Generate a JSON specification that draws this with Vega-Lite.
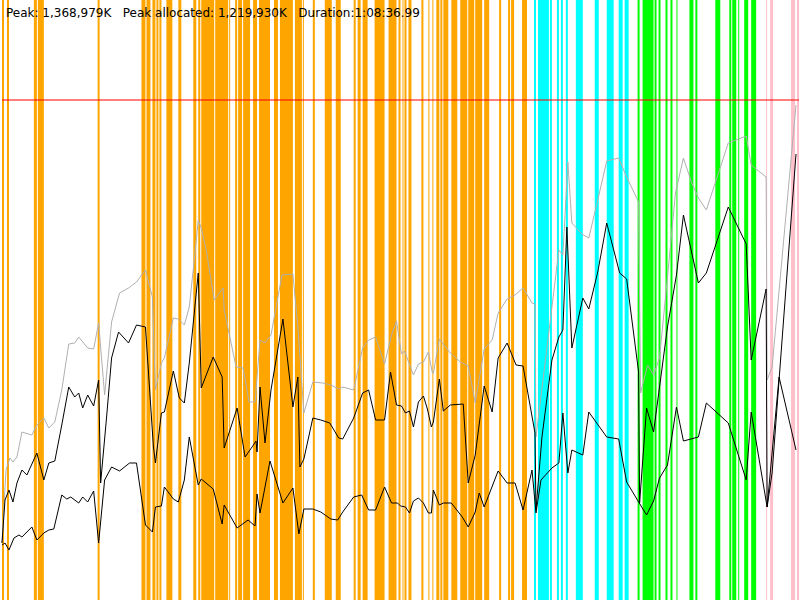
{
  "$schema": "https://vega.github.io/schema/vega-lite/v6.json",
  "width": 800,
  "height": 600,
  "padding": 0,
  "autosize": {"type": "fit", "contains": "padding"},
  "title": {
    "text": "Peak: 1,368,979K\u00a0\u00a0\u00a0Peak allocated: 1,219,930K\u00a0\u00a0\u00a0Duration:1:08:36.99",
    "anchor": "start",
    "frame": "group",
    "orient": "top",
    "offset": -20,
    "dx": 4,
    "font": "DejaVu Sans",
    "fontSize": 12,
    "fontWeight": "normal",
    "color": "#000000"
  },
  "datasets": {
    "bands": [
      {"a": 0, "b": 2, "k": "phase1"}, {"a": 5, "b": 7, "k": "phase1"}, {"a": 32, "b": 35, "k": "phase1"}, {"a": 36, "b": 42, "k": "phase1"},
      {"a": 96, "b": 98, "k": "phase1"}, {"a": 140, "b": 144, "k": "phase1"}, {"a": 145, "b": 149, "k": "phase1"}, {"a": 151, "b": 154, "k": "phase1"},
      {"a": 155, "b": 157, "k": "phase1"}, {"a": 158, "b": 160, "k": "phase1"}, {"a": 165, "b": 171, "k": "phase1"}, {"a": 177, "b": 180, "k": "phase1"},
      {"a": 192, "b": 195, "k": "phase1"}, {"a": 197, "b": 199, "k": "phase1"}, {"a": 200, "b": 213, "k": "phase1"}, {"a": 214, "b": 227, "k": "phase1"},
      {"a": 228, "b": 229, "k": "phase1"}, {"a": 234, "b": 236, "k": "phase1"}, {"a": 237, "b": 241, "k": "phase1"}, {"a": 242, "b": 249, "k": "phase1"},
      {"a": 252, "b": 256, "k": "phase1"}, {"a": 258, "b": 269, "k": "phase1"}, {"a": 273, "b": 277, "k": "phase1"}, {"a": 279, "b": 292, "k": "phase1"},
      {"a": 294, "b": 301, "k": "phase1"}, {"a": 302, "b": 303, "k": "phase1"}, {"a": 312, "b": 314, "k": "phase1"}, {"a": 324, "b": 331, "k": "phase1"},
      {"a": 335, "b": 340, "k": "phase1"}, {"a": 353, "b": 355, "k": "phase1"}, {"a": 357, "b": 360, "k": "phase1"}, {"a": 362, "b": 367, "k": "phase1"},
      {"a": 374, "b": 384, "k": "phase1"}, {"a": 388, "b": 396, "k": "phase1"}, {"a": 398, "b": 400, "k": "phase1"}, {"a": 402, "b": 403, "k": "phase1"},
      {"a": 404, "b": 406, "k": "phase1"}, {"a": 408, "b": 411, "k": "phase1"}, {"a": 421, "b": 423, "k": "phase1"}, {"a": 428, "b": 429, "k": "phase1"},
      {"a": 432, "b": 433, "k": "phase1"}, {"a": 436, "b": 439, "k": "phase1"}, {"a": 440, "b": 442, "k": "phase1"}, {"a": 443, "b": 448, "k": "phase1"},
      {"a": 451, "b": 457, "k": "phase1"}, {"a": 460, "b": 467, "k": "phase1"}, {"a": 468, "b": 474, "k": "phase1"}, {"a": 475, "b": 482, "k": "phase1"},
      {"a": 484, "b": 489, "k": "phase1"}, {"a": 499, "b": 501, "k": "phase1"}, {"a": 508, "b": 510, "k": "phase1"}, {"a": 511, "b": 514, "k": "phase1"},
      {"a": 522, "b": 527, "k": "phase1"},
      {"a": 534, "b": 536, "k": "phase2"}, {"a": 538, "b": 549, "k": "phase2"}, {"a": 550, "b": 552, "k": "phase2"}, {"a": 557, "b": 559, "k": "phase2"},
      {"a": 561, "b": 563, "k": "phase2"}, {"a": 566, "b": 568, "k": "phase2"}, {"a": 576, "b": 583, "k": "phase2"}, {"a": 595, "b": 599, "k": "phase2"},
      {"a": 607, "b": 614, "k": "phase2"}, {"a": 619, "b": 623, "k": "phase2"}, {"a": 625, "b": 629, "k": "phase2"},
      {"a": 638, "b": 640, "k": "phase3"}, {"a": 643, "b": 654, "k": "phase3"}, {"a": 655, "b": 657, "k": "phase3"}, {"a": 659, "b": 661, "k": "phase3"},
      {"a": 666, "b": 668, "k": "phase3"}, {"a": 671, "b": 673, "k": "phase3"}, {"a": 677, "b": 678, "k": "phase3"}, {"a": 690, "b": 694, "k": "phase3"},
      {"a": 696, "b": 698, "k": "phase3"}, {"a": 716, "b": 721, "k": "phase3"}, {"a": 730, "b": 732, "k": "phase3"}, {"a": 733, "b": 737, "k": "phase3"},
      {"a": 739, "b": 740, "k": "phase3"}, {"a": 745, "b": 749, "k": "phase3"}, {"a": 752, "b": 757, "k": "phase3"},
      {"a": 767, "b": 768, "k": "phase4"}, {"a": 771, "b": 774, "k": "phase4"}, {"a": 792, "b": 796, "k": "phase4"}, {"a": 798, "b": 800, "k": "phase4"}
    ],
    "mem": [
      {"s": "peak", "t": 0, "v": 57}, {"s": "peak", "t": 4, "v": 130}, {"s": "peak", "t": 8, "v": 142}, {"s": "peak", "t": 11, "v": 138},
      {"s": "peak", "t": 15, "v": 143}, {"s": "peak", "t": 20, "v": 168}, {"s": "peak", "t": 30, "v": 165}, {"s": "peak", "t": 35, "v": 175},
      {"s": "peak", "t": 42, "v": 182}, {"s": "peak", "t": 47, "v": 172}, {"s": "peak", "t": 53, "v": 178}, {"s": "peak", "t": 60, "v": 210},
      {"s": "peak", "t": 67, "v": 256}, {"s": "peak", "t": 73, "v": 257}, {"s": "peak", "t": 77, "v": 263}, {"s": "peak", "t": 86, "v": 252},
      {"s": "peak", "t": 92, "v": 251}, {"s": "peak", "t": 97, "v": 277}, {"s": "peak", "t": 103, "v": 205}, {"s": "peak", "t": 110, "v": 278},
      {"s": "peak", "t": 118, "v": 307}, {"s": "peak", "t": 127, "v": 312}, {"s": "peak", "t": 135, "v": 318}, {"s": "peak", "t": 144, "v": 330},
      {"s": "peak", "t": 151, "v": 303}, {"s": "peak", "t": 154, "v": 210}, {"s": "peak", "t": 160, "v": 237}, {"s": "peak", "t": 163, "v": 242},
      {"s": "peak", "t": 172, "v": 282}, {"s": "peak", "t": 177, "v": 281}, {"s": "peak", "t": 183, "v": 275}, {"s": "peak", "t": 188, "v": 293},
      {"s": "peak", "t": 193, "v": 340}, {"s": "peak", "t": 197, "v": 380}, {"s": "peak", "t": 200, "v": 372}, {"s": "peak", "t": 205, "v": 350},
      {"s": "peak", "t": 213, "v": 300}, {"s": "peak", "t": 222, "v": 312}, {"s": "peak", "t": 223, "v": 290}, {"s": "peak", "t": 235, "v": 233},
      {"s": "peak", "t": 242, "v": 232}, {"s": "peak", "t": 248, "v": 198}, {"s": "peak", "t": 254, "v": 198}, {"s": "peak", "t": 259, "v": 260},
      {"s": "peak", "t": 264, "v": 257}, {"s": "peak", "t": 270, "v": 265}, {"s": "peak", "t": 281, "v": 325}, {"s": "peak", "t": 292, "v": 326},
      {"s": "peak", "t": 297, "v": 273}, {"s": "peak", "t": 303, "v": 187}, {"s": "peak", "t": 312, "v": 218}, {"s": "peak", "t": 322, "v": 217},
      {"s": "peak", "t": 330, "v": 215}, {"s": "peak", "t": 338, "v": 211}, {"s": "peak", "t": 342, "v": 213}, {"s": "peak", "t": 353, "v": 210},
      {"s": "peak", "t": 362, "v": 252}, {"s": "peak", "t": 368, "v": 260}, {"s": "peak", "t": 375, "v": 263}, {"s": "peak", "t": 384, "v": 236},
      {"s": "peak", "t": 391, "v": 265}, {"s": "peak", "t": 396, "v": 279}, {"s": "peak", "t": 401, "v": 246}, {"s": "peak", "t": 404, "v": 249},
      {"s": "peak", "t": 413, "v": 225}, {"s": "peak", "t": 418, "v": 236}, {"s": "peak", "t": 423, "v": 238}, {"s": "peak", "t": 428, "v": 248},
      {"s": "peak", "t": 432, "v": 227}, {"s": "peak", "t": 433, "v": 227}, {"s": "peak", "t": 439, "v": 261}, {"s": "peak", "t": 450, "v": 247},
      {"s": "peak", "t": 460, "v": 238}, {"s": "peak", "t": 468, "v": 234}, {"s": "peak", "t": 475, "v": 197}, {"s": "peak", "t": 484, "v": 251},
      {"s": "peak", "t": 492, "v": 260}, {"s": "peak", "t": 498, "v": 287}, {"s": "peak", "t": 507, "v": 301}, {"s": "peak", "t": 515, "v": 305},
      {"s": "peak", "t": 523, "v": 312}, {"s": "peak", "t": 532, "v": 297}, {"s": "peak", "t": 535, "v": 296}, {"s": "peak", "t": 536, "v": 163},
      {"s": "peak", "t": 559, "v": 350}, {"s": "peak", "t": 563, "v": 345}, {"s": "peak", "t": 568, "v": 438}, {"s": "peak", "t": 572, "v": 377},
      {"s": "peak", "t": 582, "v": 366}, {"s": "peak", "t": 589, "v": 362}, {"s": "peak", "t": 598, "v": 400}, {"s": "peak", "t": 607, "v": 439},
      {"s": "peak", "t": 619, "v": 442}, {"s": "peak", "t": 627, "v": 423}, {"s": "peak", "t": 639, "v": 398}, {"s": "peak", "t": 641, "v": 207},
      {"s": "peak", "t": 648, "v": 235}, {"s": "peak", "t": 654, "v": 225}, {"s": "peak", "t": 660, "v": 242}, {"s": "peak", "t": 668, "v": 323},
      {"s": "peak", "t": 676, "v": 407}, {"s": "peak", "t": 684, "v": 442}, {"s": "peak", "t": 692, "v": 418}, {"s": "peak", "t": 699, "v": 402},
      {"s": "peak", "t": 707, "v": 390}, {"s": "peak", "t": 729, "v": 457}, {"s": "peak", "t": 747, "v": 464}, {"s": "peak", "t": 752, "v": 435},
      {"s": "peak", "t": 767, "v": 423}, {"s": "peak", "t": 768, "v": 220}, {"s": "peak", "t": 773, "v": 233}, {"s": "peak", "t": 797, "v": 495},

      {"s": "allocated", "t": 0, "v": 57}, {"s": "allocated", "t": 3, "v": 100}, {"s": "allocated", "t": 7, "v": 110}, {"s": "allocated", "t": 11, "v": 98},
      {"s": "allocated", "t": 15, "v": 117}, {"s": "allocated", "t": 20, "v": 130}, {"s": "allocated", "t": 25, "v": 125}, {"s": "allocated", "t": 35, "v": 147},
      {"s": "allocated", "t": 42, "v": 120}, {"s": "allocated", "t": 47, "v": 137}, {"s": "allocated", "t": 53, "v": 139}, {"s": "allocated", "t": 60, "v": 175},
      {"s": "allocated", "t": 67, "v": 213}, {"s": "allocated", "t": 73, "v": 203}, {"s": "allocated", "t": 77, "v": 207}, {"s": "allocated", "t": 81, "v": 192},
      {"s": "allocated", "t": 86, "v": 205}, {"s": "allocated", "t": 92, "v": 194}, {"s": "allocated", "t": 97, "v": 220}, {"s": "allocated", "t": 99, "v": 117},
      {"s": "allocated", "t": 105, "v": 183}, {"s": "allocated", "t": 110, "v": 242}, {"s": "allocated", "t": 117, "v": 268}, {"s": "allocated", "t": 127, "v": 257},
      {"s": "allocated", "t": 135, "v": 275}, {"s": "allocated", "t": 144, "v": 273}, {"s": "allocated", "t": 152, "v": 153}, {"s": "allocated", "t": 154, "v": 137},
      {"s": "allocated", "t": 160, "v": 187}, {"s": "allocated", "t": 163, "v": 188}, {"s": "allocated", "t": 172, "v": 229}, {"s": "allocated", "t": 178, "v": 202},
      {"s": "allocated", "t": 183, "v": 197}, {"s": "allocated", "t": 188, "v": 237}, {"s": "allocated", "t": 197, "v": 327}, {"s": "allocated", "t": 200, "v": 212},
      {"s": "allocated", "t": 212, "v": 243}, {"s": "allocated", "t": 221, "v": 223}, {"s": "allocated", "t": 223, "v": 152}, {"s": "allocated", "t": 236, "v": 192},
      {"s": "allocated", "t": 244, "v": 143}, {"s": "allocated", "t": 251, "v": 153}, {"s": "allocated", "t": 255, "v": 159}, {"s": "allocated", "t": 256, "v": 148},
      {"s": "allocated", "t": 259, "v": 213}, {"s": "allocated", "t": 264, "v": 157}, {"s": "allocated", "t": 270, "v": 210}, {"s": "allocated", "t": 282, "v": 281},
      {"s": "allocated", "t": 292, "v": 193}, {"s": "allocated", "t": 297, "v": 223}, {"s": "allocated", "t": 299, "v": 133}, {"s": "allocated", "t": 303, "v": 141},
      {"s": "allocated", "t": 312, "v": 182}, {"s": "allocated", "t": 320, "v": 180}, {"s": "allocated", "t": 329, "v": 177}, {"s": "allocated", "t": 338, "v": 162},
      {"s": "allocated", "t": 342, "v": 161}, {"s": "allocated", "t": 353, "v": 182}, {"s": "allocated", "t": 362, "v": 207}, {"s": "allocated", "t": 368, "v": 210},
      {"s": "allocated", "t": 375, "v": 180}, {"s": "allocated", "t": 384, "v": 180}, {"s": "allocated", "t": 390, "v": 228}, {"s": "allocated", "t": 396, "v": 195},
      {"s": "allocated", "t": 401, "v": 194}, {"s": "allocated", "t": 405, "v": 187}, {"s": "allocated", "t": 409, "v": 189}, {"s": "allocated", "t": 413, "v": 173},
      {"s": "allocated", "t": 418, "v": 198}, {"s": "allocated", "t": 423, "v": 204}, {"s": "allocated", "t": 427, "v": 191}, {"s": "allocated", "t": 431, "v": 173},
      {"s": "allocated", "t": 433, "v": 178}, {"s": "allocated", "t": 439, "v": 221}, {"s": "allocated", "t": 443, "v": 189}, {"s": "allocated", "t": 450, "v": 195},
      {"s": "allocated", "t": 463, "v": 196}, {"s": "allocated", "t": 468, "v": 117}, {"s": "allocated", "t": 475, "v": 145}, {"s": "allocated", "t": 484, "v": 214},
      {"s": "allocated", "t": 492, "v": 188}, {"s": "allocated", "t": 498, "v": 242}, {"s": "allocated", "t": 507, "v": 257}, {"s": "allocated", "t": 516, "v": 235},
      {"s": "allocated", "t": 523, "v": 234}, {"s": "allocated", "t": 535, "v": 167}, {"s": "allocated", "t": 536, "v": 90}, {"s": "allocated", "t": 542, "v": 163},
      {"s": "allocated", "t": 552, "v": 240}, {"s": "allocated", "t": 559, "v": 263}, {"s": "allocated", "t": 563, "v": 270}, {"s": "allocated", "t": 567, "v": 373},
      {"s": "allocated", "t": 572, "v": 252}, {"s": "allocated", "t": 583, "v": 302}, {"s": "allocated", "t": 589, "v": 291}, {"s": "allocated", "t": 598, "v": 328},
      {"s": "allocated", "t": 607, "v": 377}, {"s": "allocated", "t": 620, "v": 327}, {"s": "allocated", "t": 627, "v": 321}, {"s": "allocated", "t": 639, "v": 228},
      {"s": "allocated", "t": 640, "v": 97}, {"s": "allocated", "t": 647, "v": 192}, {"s": "allocated", "t": 654, "v": 168}, {"s": "allocated", "t": 668, "v": 273},
      {"s": "allocated", "t": 677, "v": 325}, {"s": "allocated", "t": 684, "v": 385}, {"s": "allocated", "t": 699, "v": 317}, {"s": "allocated", "t": 707, "v": 327},
      {"s": "allocated", "t": 729, "v": 393}, {"s": "allocated", "t": 747, "v": 356}, {"s": "allocated", "t": 752, "v": 240}, {"s": "allocated", "t": 767, "v": 311},
      {"s": "allocated", "t": 768, "v": 93}, {"s": "allocated", "t": 773, "v": 127}, {"s": "allocated", "t": 797, "v": 446},

      {"s": "live", "t": 0, "v": 55}, {"s": "live", "t": 3, "v": 57}, {"s": "live", "t": 7, "v": 50}, {"s": "live", "t": 12, "v": 62},
      {"s": "live", "t": 17, "v": 65}, {"s": "live", "t": 20, "v": 63}, {"s": "live", "t": 30, "v": 73}, {"s": "live", "t": 35, "v": 60},
      {"s": "live", "t": 42, "v": 67}, {"s": "live", "t": 47, "v": 70}, {"s": "live", "t": 52, "v": 71}, {"s": "live", "t": 60, "v": 105},
      {"s": "live", "t": 65, "v": 101}, {"s": "live", "t": 69, "v": 103}, {"s": "live", "t": 77, "v": 97}, {"s": "live", "t": 81, "v": 103},
      {"s": "live", "t": 86, "v": 98}, {"s": "live", "t": 92, "v": 109}, {"s": "live", "t": 97, "v": 57}, {"s": "live", "t": 103, "v": 120},
      {"s": "live", "t": 110, "v": 133}, {"s": "live", "t": 118, "v": 129}, {"s": "live", "t": 128, "v": 137}, {"s": "live", "t": 135, "v": 137},
      {"s": "live", "t": 144, "v": 75}, {"s": "live", "t": 151, "v": 68}, {"s": "live", "t": 154, "v": 93}, {"s": "live", "t": 160, "v": 94},
      {"s": "live", "t": 163, "v": 113}, {"s": "live", "t": 172, "v": 101}, {"s": "live", "t": 177, "v": 98}, {"s": "live", "t": 183, "v": 120},
      {"s": "live", "t": 188, "v": 163}, {"s": "live", "t": 197, "v": 115}, {"s": "live", "t": 200, "v": 121}, {"s": "live", "t": 212, "v": 111},
      {"s": "live", "t": 221, "v": 76}, {"s": "live", "t": 223, "v": 95}, {"s": "live", "t": 236, "v": 72}, {"s": "live", "t": 247, "v": 80},
      {"s": "live", "t": 254, "v": 74}, {"s": "live", "t": 256, "v": 106}, {"s": "live", "t": 259, "v": 87}, {"s": "live", "t": 269, "v": 139},
      {"s": "live", "t": 282, "v": 97}, {"s": "live", "t": 292, "v": 112}, {"s": "live", "t": 298, "v": 66}, {"s": "live", "t": 303, "v": 91},
      {"s": "live", "t": 312, "v": 91}, {"s": "live", "t": 320, "v": 88}, {"s": "live", "t": 330, "v": 81}, {"s": "live", "t": 337, "v": 80},
      {"s": "live", "t": 342, "v": 88}, {"s": "live", "t": 353, "v": 103}, {"s": "live", "t": 361, "v": 105}, {"s": "live", "t": 368, "v": 90},
      {"s": "live", "t": 375, "v": 90}, {"s": "live", "t": 384, "v": 113}, {"s": "live", "t": 391, "v": 97}, {"s": "live", "t": 397, "v": 97},
      {"s": "live", "t": 400, "v": 94}, {"s": "live", "t": 405, "v": 93}, {"s": "live", "t": 409, "v": 87}, {"s": "live", "t": 413, "v": 99},
      {"s": "live", "t": 418, "v": 102}, {"s": "live", "t": 423, "v": 97}, {"s": "live", "t": 428, "v": 87}, {"s": "live", "t": 431, "v": 87},
      {"s": "live", "t": 433, "v": 110}, {"s": "live", "t": 439, "v": 95}, {"s": "live", "t": 443, "v": 97}, {"s": "live", "t": 451, "v": 97},
      {"s": "live", "t": 462, "v": 83}, {"s": "live", "t": 468, "v": 73}, {"s": "live", "t": 475, "v": 88}, {"s": "live", "t": 479, "v": 107},
      {"s": "live", "t": 484, "v": 93}, {"s": "live", "t": 498, "v": 129}, {"s": "live", "t": 507, "v": 117}, {"s": "live", "t": 515, "v": 117},
      {"s": "live", "t": 523, "v": 90}, {"s": "live", "t": 532, "v": 130}, {"s": "live", "t": 536, "v": 87}, {"s": "live", "t": 541, "v": 120},
      {"s": "live", "t": 552, "v": 132}, {"s": "live", "t": 559, "v": 137}, {"s": "live", "t": 563, "v": 187}, {"s": "live", "t": 568, "v": 127},
      {"s": "live", "t": 572, "v": 150}, {"s": "live", "t": 583, "v": 145}, {"s": "live", "t": 589, "v": 188}, {"s": "live", "t": 607, "v": 163},
      {"s": "live", "t": 619, "v": 161}, {"s": "live", "t": 627, "v": 118}, {"s": "live", "t": 639, "v": 98}, {"s": "live", "t": 647, "v": 85},
      {"s": "live", "t": 654, "v": 99}, {"s": "live", "t": 660, "v": 122}, {"s": "live", "t": 668, "v": 135}, {"s": "live", "t": 677, "v": 193},
      {"s": "live", "t": 684, "v": 159}, {"s": "live", "t": 699, "v": 163}, {"s": "live", "t": 707, "v": 197}, {"s": "live", "t": 729, "v": 177},
      {"s": "live", "t": 747, "v": 120}, {"s": "live", "t": 752, "v": 188}, {"s": "live", "t": 768, "v": 93}, {"s": "live", "t": 780, "v": 223},
      {"s": "live", "t": 797, "v": 150}
    ]
  },
  "layer": [
    {
      "data": {"name": "bands"},
      "mark": {"type": "rect", "strokeWidth": 0},
      "encoding": {
        "x": {"field": "a", "type": "quantitative", "scale": {"domain": [0, 800], "nice": false, "zero": false}, "axis": null},
        "x2": {"field": "b"},
        "fill": {
          "field": "k",
          "type": "nominal",
          "scale": {"domain": ["phase1", "phase2", "phase3", "phase4"], "range": ["#ffa500", "#00ffff", "#00ff00", "#ffc0cb"]},
          "legend": null
        }
      }
    },
    {
      "data": {"values": [{}]},
      "mark": {"type": "rule", "color": "#ff0000", "strokeWidth": 2, "opacity": 0.5},
      "encoding": {
        "y": {"datum": 500, "type": "quantitative", "scale": {"domain": [0, 600], "nice": false, "zero": true}, "axis": null}
      }
    },
    {
      "data": {"name": "mem"},
      "transform": [{"filter": "datum.s === 'peak'"}],
      "mark": {"type": "line", "color": "#b0b0b0", "strokeWidth": 1},
      "encoding": {
        "x": {"field": "t", "type": "quantitative", "scale": {"domain": [0, 800], "nice": false, "zero": false}, "axis": null},
        "y": {"field": "v", "type": "quantitative", "scale": {"domain": [0, 600], "nice": false}, "axis": null}
      }
    },
    {
      "data": {"name": "mem"},
      "transform": [{"filter": "datum.s !== 'peak'"}],
      "mark": {"type": "line", "color": "#000000", "strokeWidth": 1},
      "encoding": {
        "x": {"field": "t", "type": "quantitative", "scale": {"domain": [0, 800], "nice": false, "zero": false}, "axis": null},
        "y": {"field": "v", "type": "quantitative", "scale": {"domain": [0, 600], "nice": false}, "axis": null},
        "detail": {"field": "s", "type": "nominal"}
      }
    }
  ],
  "config": {
    "view": {"stroke": null},
    "background": "#ffffff"
  }
}
